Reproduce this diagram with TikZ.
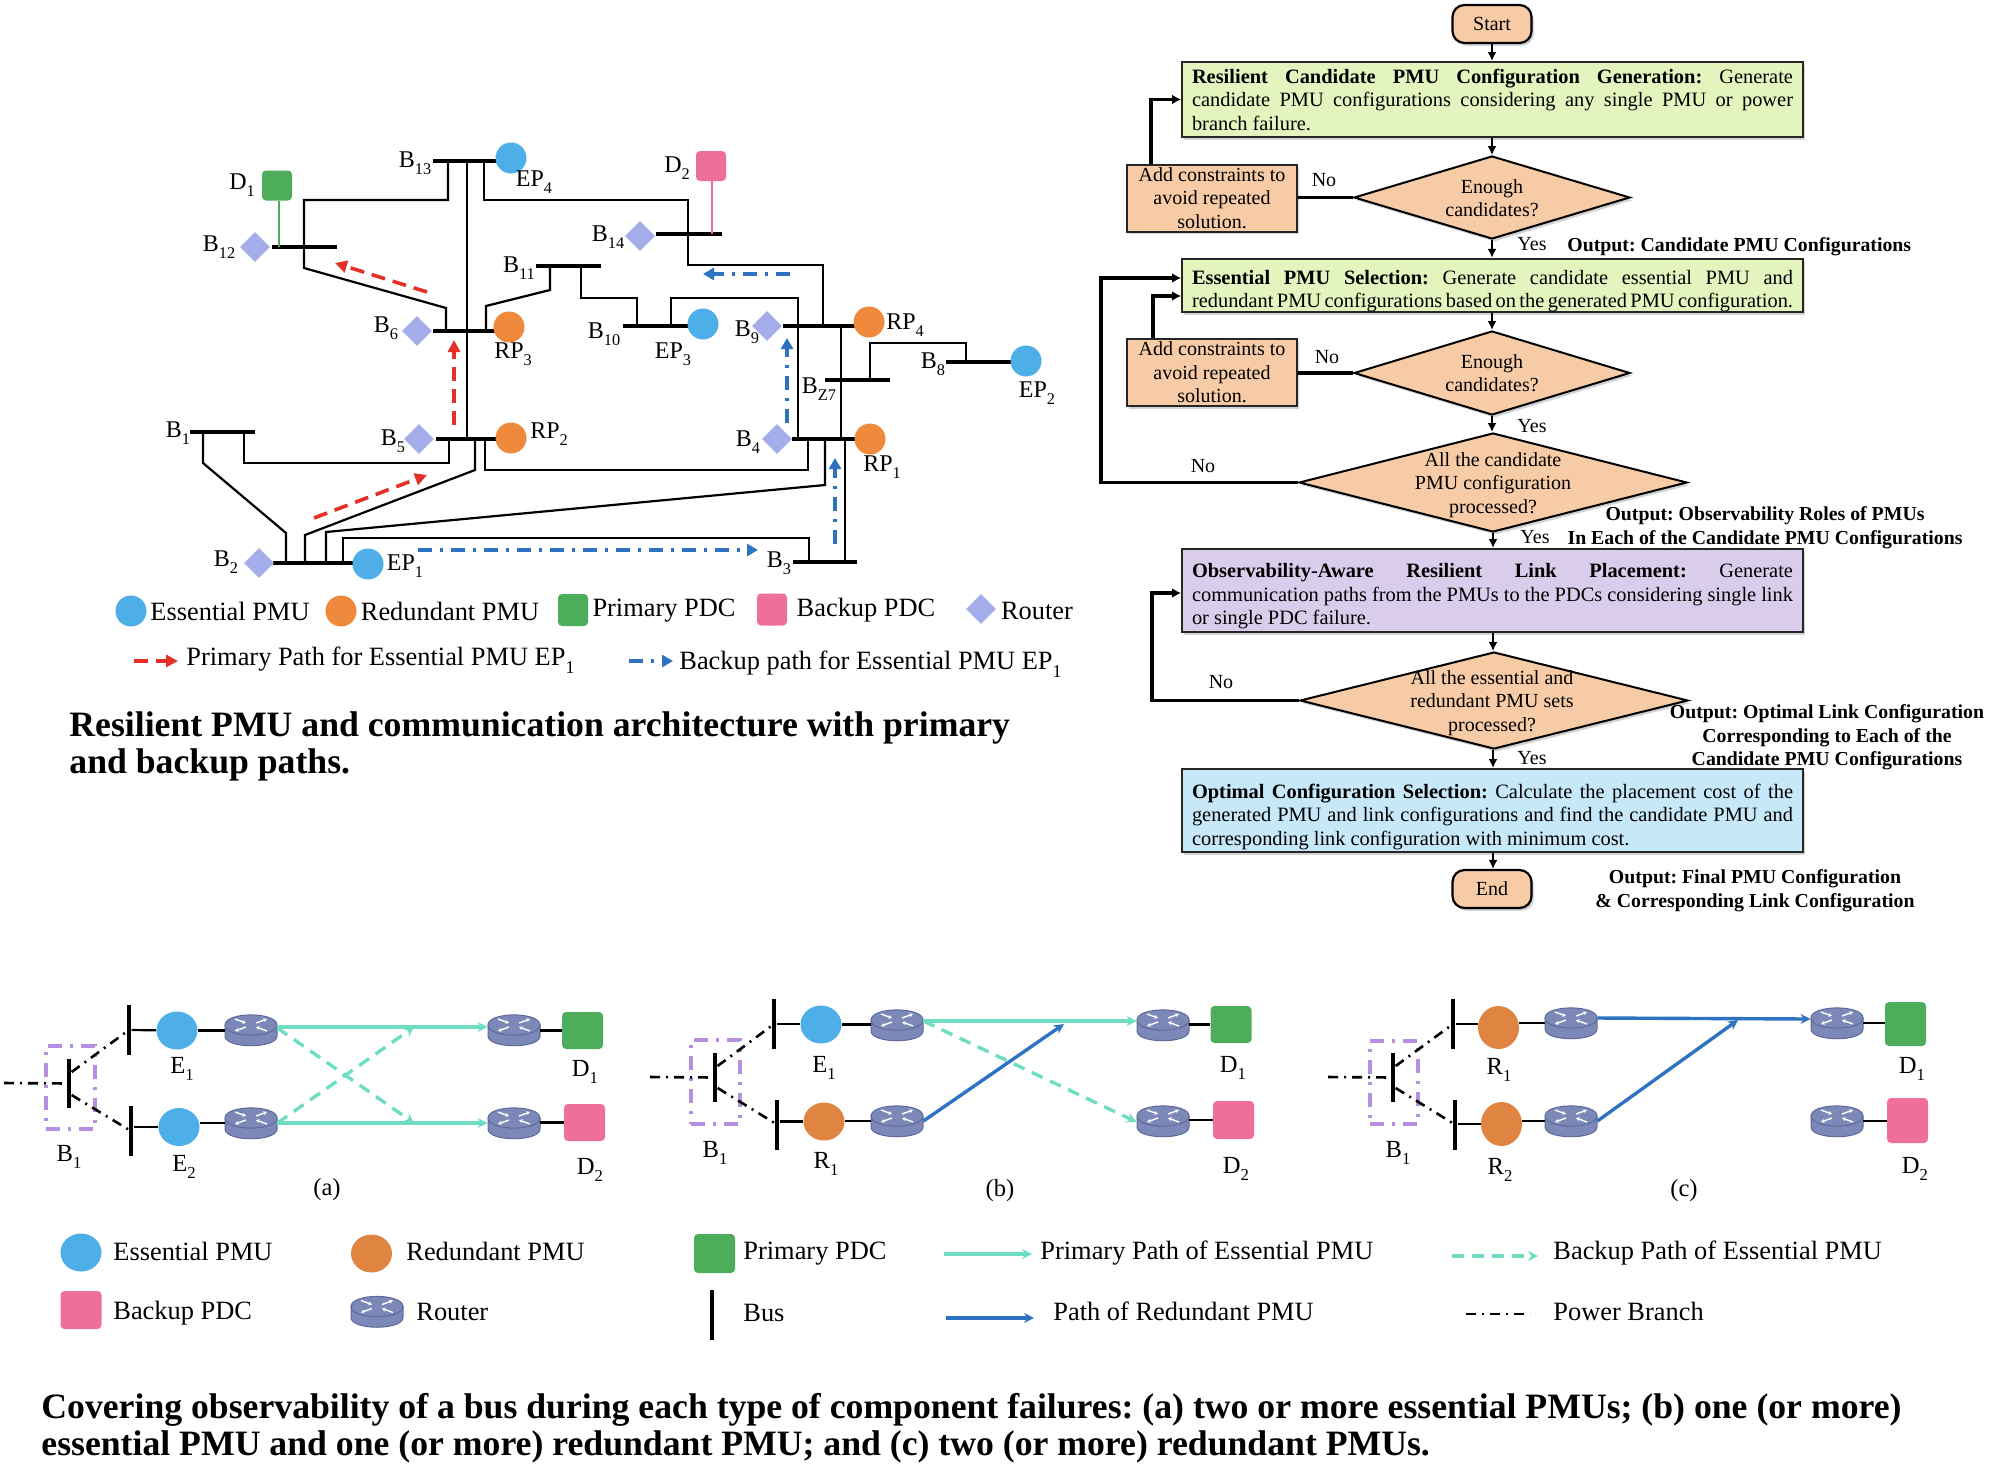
\documentclass[tikz,border=0pt]{standalone}
\usepackage{fontspec}
\setmainfont{Liberation Serif}
\usetikzlibrary{arrows.meta,shapes.geometric,shadows,calc}
\definecolor{pmuBlue}{HTML}{4DAEE8}
\definecolor{pmuOrange}{HTML}{EF8A3C}
\definecolor{pmuOrangeB}{HTML}{E08442}
\definecolor{pdcGreen}{HTML}{4EAD5B}
\definecolor{pdcPink}{HTML}{EE6F9A}
\definecolor{routerLav}{HTML}{A3ADEA}
\definecolor{routerBody}{HTML}{7C88B8}
\definecolor{routerEdge}{HTML}{5F6A9A}
\definecolor{pathTeal}{HTML}{6FDCC4}
\definecolor{pathRed}{HTML}{E53027}
\definecolor{pathBlue}{HTML}{2E72C2}
\definecolor{failPurple}{HTML}{B78FE0}
\definecolor{flowOrange}{HTML}{F6CBA6}
\definecolor{flowGreen}{HTML}{E3F4BF}
\definecolor{flowPurple}{HTML}{D9CDEB}
\definecolor{flowCyan}{HTML}{C7E8F8}
% subscript set in the running text face
\newcommand{\subs}[1]{\raisebox{-.28em}{\scalebox{.68}{#1}}}
% one stretched line of a justified block
\newcommand{\jl}[1]{\leavevmode\hbox to 300.5pt{\spaceskip=.25em plus 1fil minus .15em\relax\xspaceskip=\spaceskip #1}}
\tikzset{
  every node/.style={inner sep=0pt,execute at begin node={\spaceskip=.25em\relax\xspaceskip=.25em\relax}},
  lab/.style={font=\fontsize{12}{14}\selectfont},
  labb/.style={font=\fontsize{12.3}{14}\selectfont},
  legA/.style={font=\fontsize{13.2}{16}\selectfont},
  legB/.style={font=\fontsize{13.2}{16}\selectfont},
  capt/.style={font=\fontsize{17.85}{18.5}\selectfont\bfseries,align=left,anchor=west},
  hbus/.style={fill=black,minimum height=1.8pt,minimum width=#1},
  vbus/.style={fill=black,minimum width=2.2pt,minimum height=#1},
  wire/.style={draw=black,line width=1.1pt,line join=miter},
  circE/.style={circle,fill=pmuBlue,minimum size=15.5pt},
  circR/.style={circle,fill=pmuOrange,minimum size=15.5pt},
  pdcG/.style={rectangle,rounded corners=2pt,fill=pdcGreen,minimum width=15pt,minimum height=15pt},
  pdcP/.style={rectangle,rounded corners=2pt,fill=pdcPink,minimum width=15pt,minimum height=15pt},
  rtr/.style={diamond,fill=routerLav,minimum width=15pt,minimum height=15pt},
  primarypath/.style={draw=pathRed,line width=1.8pt,dash pattern=on 7pt off 4pt,-{Triangle[length=6pt,width=6pt]}},
  backuppath/.style={draw=pathBlue,line width=1.7pt,dash pattern=on 7pt off 4pt on 1.5pt off 4pt,-{Triangle[length=5.5pt,width=6pt]}},
  % flowchart
  fbox/.style={rectangle,draw=black!85,line width=1pt,text width=300.5pt,align=left,inner xsep=5pt,
    font=\fontsize{10.2}{11.75}\selectfont,drop shadow={shadow xshift=1.2pt,shadow yshift=-1.4pt,opacity=.35}},
  addbox/.style={rectangle,draw=black!85,line width=1pt,fill=flowOrange,minimum width=85pt,minimum height=33.5pt,align=center,
    font=\fontsize{10}{11.75}\selectfont,drop shadow={shadow xshift=1.2pt,shadow yshift=-1.4pt,opacity=.35}},
  terminal/.style={rectangle,rounded corners=6pt,draw=black,line width=1.1pt,fill=flowOrange,minimum width=39.5pt,minimum height=19pt,
    font=\fontsize{10}{12}\selectfont,drop shadow={shadow xshift=1.2pt,shadow yshift=-1.4pt,opacity=.35}},
  dia/.style={diamond,draw=black,line width=1pt,fill=flowOrange,drop shadow={shadow xshift=1.2pt,shadow yshift=-1.4pt,opacity=.35}},
  diatext/.style={align=center,font=\fontsize{10}{11.75}\selectfont},
  ftext/.style={font=\fontsize{10}{11.75}\selectfont},
  outp/.style={align=center,font=\fontsize{9.9}{11.75}\selectfont\bfseries},
  flow/.style={draw=black,line width=1.3pt,-{Latex[length=4.5pt,width=4.5pt]}},
  flowplain/.style={draw=black,line width=1.7pt},
  feedback/.style={draw=black,line width=1.7pt,-{Latex[length=4.5pt,width=5pt]}},
  % failure-coverage panels
  pwr/.style={draw=black,line width=1.3pt,dash pattern=on 5pt off 3pt on 1pt off 3pt},
  failbox/.style={rectangle,draw=failPurple,line width=1.7pt,dash pattern=on 7pt off 4pt on 1.5pt off 4pt},
  pmuE/.style={ellipse,fill=pmuBlue,minimum width=20.5pt,minimum height=19pt},
  pmuR/.style={ellipse,fill=pmuOrangeB,minimum width=20.5pt,minimum height=19pt},
  pdcGb/.style={rectangle,rounded corners=2pt,fill=pdcGreen,minimum width=20.5pt,minimum height=#1},
  pdcPb/.style={rectangle,rounded corners=2pt,fill=pdcPink,minimum width=20.5pt,minimum height=#1},
  rbox/.style={rectangle,minimum width=26pt,minimum height=15.5pt},
  tealsolid/.style={draw=pathTeal,line width=1.7pt,-{Stealth[length=5pt,width=5pt]}},
  tealdash/.style={draw=pathTeal,line width=1.7pt,dash pattern=on 6pt off 4pt,-{Stealth[length=5pt,width=5pt]}},
  bluesolid/.style={draw=pathBlue,line width=1.7pt,-{Stealth[length=5pt,width=5pt]}},
  routericon/.pic={
    \path[fill=routerBody,draw=routerEdge,line width=.5pt]
      (-26,-5) -- (-26,6) .. controls (-26,19) and (26,19) .. (26,6) -- (26,-5) -- cycle;
    \path[fill=routerBody,draw=routerEdge,line width=.5pt]
      (-26,-5) .. controls (-26,-18.5) and (26,-18.5) .. (26,-5)
      .. controls (26,8.5) and (-26,8.5) .. (-26,-5);
    \draw[white,line width=.7pt,-{Stealth[length=1.8pt,width=2pt]}] (-16,-11) -- (-5,-7);
    \draw[white,line width=.7pt,-{Stealth[length=1.8pt,width=2pt]}] (5,-7) -- (16,-11);
    \draw[white,line width=.7pt,-{Stealth[length=1.8pt,width=2pt]}] (-5,-3) -- (-16,1);
    \draw[white,line width=.7pt,-{Stealth[length=1.8pt,width=2pt]}] (16,1) -- (5,-3);
  },
}
\newcommand{\routerat}[2]{\node[rbox] (#1) at (#2) {}; \pic at (#1) {routericon};}
\begin{document}
\begin{tikzpicture}[x=.5pt,y=-.5pt]
\useasboundingbox (0,0) rectangle (2016,1472);

% ---------- power network with PMUs and PDCs ----------
\node[hbus=32pt] (B13) at (465,161) {};
\node[hbus=32.5pt] (B12) at (304.5,247) {};
\node[hbus=31pt] (B6) at (464,331) {};
\node[hbus=32.5pt] (B11) at (568.5,266) {};
\node[hbus=32.5pt] (B10) at (655.5,326) {};
\node[hbus=36pt] (B9) at (819,326) {};
\node[hbus=32.5pt] (BZ) at (857.5,380) {};
\node[hbus=33pt] (B8) at (979,362) {};
\node[hbus=33pt] (B14) at (689,234) {};
\node[hbus=31.5pt] (B4) at (823.5,439) {};
\node[hbus=32.5pt] (B1) at (222.5,432) {};
\node[hbus=30.5pt] (B5) at (466.5,439) {};
\node[hbus=32pt] (B3) at (825,562) {};
\node[hbus=40pt] (B2) at (313,563) {};

\node[circE] (EP4) at (511,158) {};
\node[circE] (EP3) at (703,324) {};
\node[circE] (EP2) at (1026,361) {};
\node[circE] (EP1) at (368,564) {};
\node[circR] (RP3) at (509,327) {};
\node[circR] (RP4) at (869,322) {};
\node[circR] (RP2) at (511,438) {};
\node[circR] (RP1) at (870,439) {};
\node[pdcG] (D1) at (277,185.5) {};
\node[pdcP] (D2) at (711,166) {};
\node[rtr] (R12) at (255,247) {};
\node[rtr] (R14) at (640,236) {};
\node[rtr] (R6) at (417,331) {};
\node[rtr] (R9) at (767,326) {};
\node[rtr] (R5) at (419,439) {};
\node[rtr] (R4) at (777,439) {};
\node[rtr] (R2) at (259,563) {};

\draw[wire] (448,0 |- B13.center) -- (448,200) -- (304,200) -- (304,268) -- (446,308) -- (446,0 |- B6.center);
\draw[wire] (467,0 |- B13.center) -- (467,0 |- B5.center);
\draw[wire] (484,0 |- B13.center) -- (484,200) -- (688,200) -- (688,265) -- (823,265) -- (823,0 |- B9.center);
\draw[wire] (550,0 |- B11.center) -- (550,290) -- (486,306) -- (486,0 |- B6.center);
\draw[wire] (581,0 |- B11.center) -- (581,298) -- (637,298) -- (637,0 |- B10.center);
\draw[wire] (671,0 |- B10.center) -- (671,298) -- (798,298) -- (798,0 |- B4.center);
\draw[wire] (841,0 |- B9.center) -- (841,0 |- B4.center);
\draw[wire] (870,0 |- BZ.center) -- (870,343) -- (966,343) -- (966,0 |- B8.center);
\draw[wire] (203,0 |- B1.center) -- (203,463) -- (286,533) -- (286,0 |- B2.center);
\draw[wire] (244,0 |- B1.center) -- (244,463) -- (449,463) -- (449,0 |- B5.center);
\draw[wire] (475,0 |- B5.center) -- (475,470) -- (305,535) -- (305,0 |- B2.center);
\draw[wire] (485,0 |- B5.center) -- (485,470) -- (808,470) -- (808,0 |- B4.center);
\draw[wire] (326,0 |- B2.center) -- (326,532) -- (825,485) -- (825,0 |- B4.center);
\draw[wire] (343,0 |- B2.center) -- (343,538) -- (809,538) -- (809,0 |- B3.center);
\draw[wire] (845,0 |- B4.center) -- (845,0 |- B3.center);
\draw[draw=pdcGreen,line width=1pt] (279,0 |- D1.south) -- (279,0 |- B12.center);
\draw[draw=pdcPink,line width=1pt] (712,0 |- D2.south) -- (712,0 |- B14.center);

% paths taken by EP1
\coordinate (rp1a) at (314,518); \coordinate (rp1b) at (427,475);
\coordinate (rp2a) at (454,425); \coordinate (rp2b) at (454,340);
\coordinate (rp3a) at (427,292); \coordinate (rp3b) at (335,263);
\draw[primarypath] (rp1a) -- (rp1b);
\draw[primarypath] (rp2a) -- (rp2b);
\draw[primarypath] (rp3a) -- (rp3b);
\coordinate (bp1a) at (418,550); \coordinate (bp1b) at (758,550);
\coordinate (bp2a) at (835,544); \coordinate (bp2b) at (835,458);
\coordinate (bp3a) at (787,423); \coordinate (bp3b) at (787,338);
\coordinate (bp4a) at (790,274); \coordinate (bp4b) at (703,274);
\draw[backuppath] (bp1a) -- (bp1b);
\draw[backuppath] (bp2a) -- (bp2b);
\draw[backuppath] (bp3a) -- (bp3b);
\draw[backuppath] (bp4a) -- (bp4b);

\node[lab] (lB13) at (415,163) {B\subs{13}};
\node[lab] (lD1) at (242,185) {D\subs{1}};
\node[lab] (lB12) at (219,247) {B\subs{12}};
\node[lab] (lEP4) at (534,182) {EP\subs{4}};
\node[lab] (lD2) at (677,168) {D\subs{2}};
\node[lab] (lB14) at (608,237) {B\subs{14}};
\node[lab] (lB11) at (519,268) {B\subs{11}};
\node[lab] (lB6) at (386,328) {B\subs{6}};
\node[lab] (lRP3) at (513,354) {RP\subs{3}};
\node[lab] (lB10) at (604,334) {B\subs{10}};
\node[lab] (lEP3) at (673,354) {EP\subs{3}};
\node[lab] (lB9) at (747,332) {B\subs{9}};
\node[lab] (lRP4) at (905,325) {RP\subs{4}};
\node[lab] (lB8) at (933,364) {B\subs{8}};
\node[lab] (lBZ) at (819,389) {B\subs{Z7}};
\node[lab] (lEP2) at (1037,393) {EP\subs{2}};
\node[lab] (lB1) at (178,433) {B\subs{1}};
\node[lab] (lB5) at (393,441) {B\subs{5}};
\node[lab] (lRP2) at (549,434) {RP\subs{2}};
\node[lab] (lB4) at (748,442) {B\subs{4}};
\node[lab] (lRP1) at (882,467) {RP\subs{1}};
\node[lab] (lB2) at (226,562) {B\subs{2}};
\node[lab] (lEP1) at (405,566) {EP\subs{1}};
\node[lab] (lB3) at (779,563) {B\subs{3}};

% legend of the network
\node[circE] (kE) at (131,611) {};
\node[legA] (kEt) at (230,611) {Essential PMU};
\node[circR] (kR) at (341,611) {};
\node[legA] (kRt) at (450,611) {Redundant PMU};
\node[pdcG,minimum height=16pt] (kP) at (573,610) {};
\node[legA] (kPt) at (664,611) {Primary PDC};
\node[pdcP,minimum height=16pt] (kB) at (772,609.5) {};
\node[legA] (kBt) at (866,610) {Backup PDC};
\node[rtr] (kD) at (981,609) {};
\node[legA] (kDt) at (1037,611) {Router};
\coordinate (kpa) at (134,661); \coordinate (kpb) at (178,661);
\draw[primarypath] (kpa) -- (kpb);
\node[legA,anchor=west] (kpt) at (186,660) {Primary Path for Essential PMU EP\subs{1}};
\coordinate (kba) at (629,661); \coordinate (kbb) at (673,661);
\draw[backuppath] (kba) -- (kbb);
\node[legA,anchor=west] (kbt) at (679,664) {Backup path for Essential PMU EP\subs{1}};

\node[capt] (cap1) at (69,746.5) {Resilient PMU and communication architecture with primary\\and backup paths.};

% ---------- design flow ----------
\node[terminal] (start) at (1492,24) {Start};
\node[fbox,fill=flowGreen,minimum height=37.5pt] (gen) at (1492.5,99.5) {%
  \jl{\textbf{Resilient Candidate PMU Configuration Generation:} Generate}\\
  \jl{candidate PMU configurations considering any single PMU or power}\\
  branch failure.};
\node[dia,minimum width=138pt,minimum height=41.5pt] (d1) at (1492,197.5) {};
\node[diatext] (d1t) at (1492,198) {Enough\\candidates?};
\node[addbox] (add1) at (1212,198) {Add constraints to\\avoid repeated\\solution.};
\node[fbox,fill=flowGreen,minimum height=26.5pt] (sel) at (1492.5,285.5) {%
  \vskip 1pt
  \jl{\textbf{Essential PMU Selection:} Generate candidate essential PMU and}\\
  \jl{redundant PMU configurations based on the generated PMU configuration.}};
\node[dia,minimum width=138pt,minimum height=42pt] (d2) at (1492,373) {};
\node[diatext] (d2t) at (d2) {Enough\\candidates?};
\node[addbox] (add2) at (1212,372.5) {Add constraints to\\avoid repeated\\solution.};
\node[dia,minimum width=194pt,minimum height=49.5pt] (d3) at (1493,482.5) {};
\node[diatext] (d3t) at (1493,485) {All the candidate\\PMU configuration\\processed?};
\node[fbox,fill=flowPurple,minimum height=41.5pt] (link) at (1492.5,590.5) {%
  \vskip 1pt
  \jl{\textbf{Observability-Aware Resilient Link Placement:} Generate}\\
  \jl{communication paths from the PMUs to the PDCs considering single link}\\
  or single PDC failure.};
\node[dia,minimum width=194pt,minimum height=48.5pt] (d4) at (1494,700.5) {};
\node[diatext] (d4t) at (1492,703) {All the essential and\\redundant PMU sets\\processed?};
\node[fbox,fill=flowCyan,minimum height=41.5pt] (opt) at (1492.5,810.5) {%
  \vskip 1.5pt
  \jl{\textbf{Optimal Configuration Selection:} Calculate the placement cost of the}\\
  \jl{generated PMU and link configurations and find the candidate PMU and}\\
  corresponding link configuration with minimum cost.};
\node[terminal] (finish) at (1492,889) {End};

\draw[flow] (start) -- (start |- gen.north);
\draw[flow] (gen.south -| d1.north) -- (d1.north);
\draw[flow] (d1.south) -- (d1.south |- sel.north);
\draw[flow] (sel.south -| d2.north) -- (d2.north);
\draw[flow] (d2.south) -- (d2.south |- d3.north);
\draw[flow] (d3.south) -- (d3.south |- link.north);
\draw[flow] (link.south -| d3.south) -- (d4.north -| d3.south);
\draw[flow] (d4.south -| d3.south) -- (d3.south |- opt.north);
\draw[flow] (opt.south -| d3.south) -- (d3.south |- finish.north);
\draw[flowplain] (d1.west) -- (d1.west -| add1.east);
\draw[flowplain] (d2.west) -- (d2.west -| add2.east);
\draw[feedback] (1151,0 |- add1.north) |- (gen.west);
\draw[feedback] (1153,0 |- add2.north) |- (sel.west |- 0,296);
\draw[feedback] (d3.west) -- (1101,0 |- d3.west) |- (sel.west |- 0,278);
\draw[feedback] (d4.west) -- (1152,0 |- d4.west) |- (link.west |- 0,593);

\node[ftext] (no1) at (1324,180) {No};
\node[ftext] (no2) at (1327,357) {No};
\node[ftext] (no3) at (1203,466) {No};
\node[ftext] (no4) at (1221,682) {No};
\node[ftext] (yes1) at (1532,244) {Yes};
\node[ftext] (yes2) at (1532,426) {Yes};
\node[ftext] (yes3) at (1535,537) {Yes};
\node[ftext] (yes4) at (1532,758) {Yes};
\node[outp,anchor=west] (o1) at (1567,247) {Output: Candidate PMU Configurations};
\node[outp] (o2) at (1765,527.5) {Output: Observability Roles of PMUs\\In Each of the Candidate PMU Configurations};
\node[outp] (o3) at (1827,737.5) {Output: Optimal Link Configuration\\Corresponding to Each of the\\Candidate PMU Configurations};
\node[outp] (o4) at (1755,890.5) {Output: Final PMU Configuration\\\& Corresponding Link Configuration};

% ---------- failure coverage, panel (a) ----------
\node[failbox,minimum width=24.5pt,minimum height=41.5pt] (fa) at (70.5,1087.5) {};
\node[vbus=24.5pt] (ba) at (69,1083.5) {};
\node[vbus=25pt] (ba1) at (129,1030) {};
\node[vbus=25pt] (ba2) at (131,1131) {};
\coordinate (fa0) at (4,1083);
\draw[pwr] (fa0) -- (ba);
\draw[pwr] (ba.east |- 0,1072) -- (ba1);
\draw[pwr] (ba.east |- 0,1095) -- (ba2);
\node[pmuE] (ae1) at (177,1030.5) {};
\node[pmuE] (ae2) at (179,1127) {};
\routerat{ra1}{251,1030}
\routerat{ra2}{251,1123}
\routerat{ra3}{514,1030}
\routerat{ra4}{514,1123}
\node[pdcGb=18.5pt] (ad1) at (582.5,1030.5) {};
\node[pdcPb=18.5pt] (ad2) at (584.5,1122.5) {};
\draw[wire] (ba1) -- (ae1);
\draw[wire] (ba2.east |- ae2) -- (ae2);
\draw[wire] (ae1) -- (ae1 -| ra1.west);
\draw[wire] (ae2.east |- ra2) -- (ra2.west);
\draw[wire] (ra3.east |- ad1) -- (ad1.west);
\draw[wire] (ra4.east |- ad2) -- (ad2.west);
\draw[tealsolid] (ra1.east |- 0,1027) -- (ra3.west |- 0,1027);
\draw[tealsolid] (ra2.east) -- (ra4.west);
\coordinate (xa1) at (414,1123); \coordinate (xa2) at (414,1027);
\draw[tealdash] (ra1.east |- 0,1028) -- (xa1);
\draw[tealdash] (ra2.east) -- (xa2);
\node[labb] (laE1) at (182,1069) {E\subs{1}};
\node[labb] (laE2) at (184,1167) {E\subs{2}};
\node[labb] (laB) at (69,1157) {B\subs{1}};
\node[labb] (laD1) at (585,1072) {D\subs{1}};
\node[labb] (laD2) at (590,1170) {D\subs{2}};
\node[labb] (lata) at (327,1190) {(a)};

% panel (b)
\node[failbox,minimum width=24.5pt,minimum height=42pt] (fb) at (715.5,1082) {};
\node[vbus=24.5pt] (bb) at (715,1077.5) {};
\node[vbus=25pt] (bb1) at (774,1024) {};
\node[vbus=25pt] (bb2) at (777,1124.5) {};
\coordinate (fb0) at (650,1077);
\draw[pwr] (fb0) -- (bb);
\draw[pwr] (bb.east |- 0,1066) -- (bb1);
\draw[pwr] (bb.east |- 0,1088) -- (bb2);
\node[pmuE] (be1) at (821,1024.5) {};
\node[pmuR] (br1) at (824,1121.5) {};
\routerat{rb1}{897,1025}
\routerat{rb2}{897,1121}
\routerat{rb3}{1163,1025}
\routerat{rb4}{1163,1121}
\node[pdcGb=18.5pt] (bd1) at (1231,1024.5) {};
\node[pdcPb=19pt] (bd2) at (1233.5,1120) {};
\draw[wire] (bb1) -- (bb1 -| be1.west);
\draw[wire] (bb2.east |- br1) -- (br1);
\draw[wire] (be1) -- (be1 -| rb1.west);
\draw[wire] (br1.east |- rb2) -- (rb2.west);
\draw[wire] (rb3.east |- bd1) -- (bd1.west);
\draw[wire] (rb4.east |- bd2) -- (bd2.west);
\draw[tealsolid] (rb1.east |- 0,1021) -- (rb3.west |- 0,1021);
\draw[tealdash] (rb1.east |- 0,1021) -- (rb4.west |- 0,1122);
\coordinate (xb1) at (1064,1024);
\draw[bluesolid] (rb2.east) -- (xb1);
\node[labb] (lbE1) at (824,1068) {E\subs{1}};
\node[labb] (lbR1) at (826,1164) {R\subs{1}};
\node[labb] (lbB) at (715,1153) {B\subs{1}};
\node[labb] (lbD1) at (1233,1068) {D\subs{1}};
\node[labb] (lbD2) at (1236,1169) {D\subs{2}};
\node[labb] (latb) at (1000,1191) {(b)};

% panel (c)
\node[failbox,minimum width=24pt,minimum height=41.5pt] (fc) at (1394,1082.5) {};
\node[vbus=24.5pt] (bc) at (1393,1077.5) {};
\node[vbus=25pt] (bc1) at (1453,1024) {};
\node[vbus=25pt] (bc2) at (1455,1124.5) {};
\coordinate (fc0) at (1328,1077);
\draw[pwr] (fc0) -- (bc);
\draw[pwr] (bc.east |- 0,1066) -- (bc1);
\draw[pwr] (bc.east |- 0,1088) -- (bc2);
\node[pmuR,minimum height=21.5pt] (cr1) at (1498.5,1027.5) {};
\node[pmuR,minimum height=22pt] (cr2) at (1501.5,1124) {};
\routerat{rc1}{1571,1023}
\routerat{rc2}{1571,1121}
\routerat{rc3}{1837,1023}
\routerat{rc4}{1837,1121}
\node[pdcGb=22pt] (cd1) at (1905.5,1024) {};
\node[pdcPb=22.5pt] (cd2) at (1907.5,1120.5) {};
\draw[wire] (bc1) -- (bc1 -| cr1.west);
\draw[wire] (bc2.east |- cr2) -- (cr2);
\draw[wire] (cr1.east |- rc1) -- (rc1.west);
\draw[wire] (cr2.east |- rc2) -- (rc2.west);
\draw[wire] (rc3.east) -- (rc3.east -| cd1.west);
\draw[wire] (rc4.east) -- (rc4.east -| cd2.west);
\draw[bluesolid] (rc1.east |- 0,1018) -- (rc3.west |- 0,1019);
\coordinate (xc1) at (1738,1020);
\draw[bluesolid] (rc2.east) -- (xc1);
\node[labb] (lcR1) at (1499,1070) {R\subs{1}};
\node[labb] (lcR2) at (1500,1170) {R\subs{2}};
\node[labb] (lcB) at (1398,1153) {B\subs{1}};
\node[labb] (lcD1) at (1912,1069) {D\subs{1}};
\node[labb] (lcD2) at (1915,1169) {D\subs{2}};
\node[labb] (latc) at (1684,1191) {(c)};

% legend of the panels
\node[pmuE] (nE) at (81,1252.5) {};
\node[legB,anchor=west] (nEt) at (113,1251) {Essential PMU};
\node[pmuR] (nR) at (371.5,1253.5) {};
\node[legB,anchor=west] (nRt) at (406,1251) {Redundant PMU};
\node[pdcGb=19.5pt] (nP) at (714.5,1253.5) {};
\node[legB,anchor=west] (nPt) at (743,1254) {Primary PDC};
\node[pdcPb=19pt] (nB) at (81,1310) {};
\node[legB,anchor=west] (nBt) at (113,1313) {Backup PDC};
\routerat{nD}{377,1311.5}
\node[legB,anchor=west] (nDt) at (416,1312) {Router};
\node[vbus=25pt] (nBus) at (712,1315) {};
\node[legB,anchor=west] (nBust) at (743,1313) {Bus};
\coordinate (n1a) at (944,1254); \coordinate (n1b) at (1032,1254);
\draw[tealsolid] (n1a) -- (n1b);
\node[legB,anchor=west] (n1t) at (1040,1253) {Primary Path of Essential PMU};
\coordinate (n2a) at (1452,1256); \coordinate (n2b) at (1538,1256);
\draw[tealdash] (n2a) -- (n2b);
\node[legB,anchor=west] (n2t) at (1553,1253) {Backup Path of Essential PMU};
\coordinate (n3a) at (946,1318); \coordinate (n3b) at (1034,1318);
\draw[bluesolid] (n3a) -- (n3b);
\node[legB,anchor=west] (n3t) at (1053,1311) {Path of Redundant PMU};
\coordinate (n4a) at (1466,1314); \coordinate (n4b) at (1530,1314);
\draw[pwr] (n4a) -- (n4b);
\node[legB,anchor=west] (n4t) at (1553,1311) {Power Branch};

\node[capt] (cap2) at (41,1428.5) {Covering observability of a bus during each type of component failures: (a) two or more essential PMUs; (b) one (or more)\\essential PMU and one (or more) redundant PMU; and (c) two (or more) redundant PMUs.};
\end{tikzpicture}
\end{document}
